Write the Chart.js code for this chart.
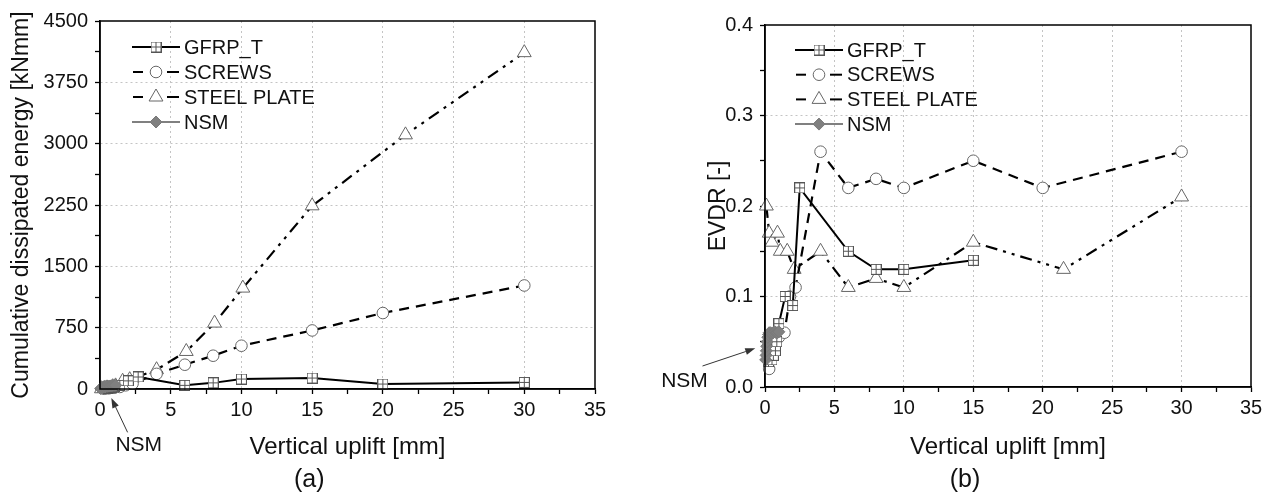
<!DOCTYPE html>
<html><head><meta charset="utf-8">
<script src="https://cdn.jsdelivr.net/npm/chart.js@4.4.0/dist/chart.umd.min.js"></script>
<style>
html,body{margin:0;padding:0;background:#fff;}
#wrap{position:relative;width:1272px;height:498px;overflow:hidden;}
#c1{position:absolute;left:0;top:0;}
#c2{position:absolute;left:640px;top:0;}
</style></head><body>
<div id="wrap"><canvas id="c1" width="640" height="498"></canvas><canvas id="c2" width="632" height="498"></canvas></div>
<script>
// ---------- data ----------
const seriesNames = ['GFRP_T', 'SCREWS', 'STEEL PLATE', 'NSM'];
const xMajorTicks = [0, 5, 10, 15, 20, 25, 30, 35];
const aYMajorTicks = [0, 750, 1500, 2250, 3000, 3750, 4500];
const bYMajorTicks = [0.0, 0.1, 0.2, 0.3, 0.4];

// Panel (a): cumulative dissipated energy [kNmm]
const aGfrpX   = [0.3, 0.5, 0.6, 0.8, 1.0, 1.4, 2.0, 2.7, 6, 8, 10, 15, 20, 30];
const aGfrpY   = [8, 12, 15, 20, 30, 45, 100, 147, 45, 75, 122, 134, 61, 81];
const aScrewsX = [0.3, 0.6, 1.0, 1.4, 1.8, 2.3, 4, 6, 8, 10, 15, 20, 30];
const aScrewsY = [3, 8, 15, 25, 45, 65, 185, 297, 407, 529, 716, 929, 1266];
const aSteelX  = [0.1, 0.3, 0.5, 0.9, 1.1, 1.6, 2.1, 4, 6.1, 8.1, 10.1, 15, 21.6, 30];
const aSteelY  = [3, 8, 14, 28, 38, 95, 114, 236, 459, 806, 1234, 2240, 3108, 4113];
const aNsmX    = [0.05, 0.1, 0.15, 0.2, 0.3, 0.4, 0.5, 0.6, 0.7, 0.8, 0.9, 1.0, 1.1];
const aNsmY    = [5, 10, 15, 20, 25, 30, 32, 35, 37, 40, 42, 44, 46];

// Panel (b): EVDR [-]
const bGfrpX   = [0.25, 0.5, 0.6, 0.75, 0.85, 1.0, 1.45, 2.0, 2.5, 6, 8, 10, 15];
const bGfrpY   = [0.028, 0.03, 0.035, 0.04, 0.05, 0.07, 0.10, 0.09, 0.22, 0.15, 0.13, 0.13, 0.14];
const bScrewsX = [0.3, 0.7, 1.0, 1.4, 1.8, 2.2, 4, 6, 8, 10, 15, 20, 30];
const bScrewsY = [0.02, 0.04, 0.055, 0.06, 0.10, 0.11, 0.26, 0.22, 0.23, 0.22, 0.25, 0.22, 0.26];
const bSteelX  = [0.1, 0.3, 0.5, 0.9, 1.1, 1.6, 2.1, 4, 6, 8, 10, 15, 21.5, 30];
const bSteelY  = [0.20, 0.17, 0.16, 0.17, 0.15, 0.15, 0.13, 0.15, 0.11, 0.12, 0.11, 0.16, 0.13, 0.21];
const bNsmX    = [0.05, 0.08, 0.1, 0.12, 0.15, 0.2, 0.25, 0.3, 0.4, 0.5, 0.6, 0.7, 0.8, 0.9, 1.0];
const bNsmY    = [0.03, 0.035, 0.04, 0.045, 0.05, 0.055, 0.058, 0.06, 0.06, 0.059, 0.06, 0.061, 0.06, 0.06, 0.061];

// ---------- helpers ----------
const FONT = '"Liberation Sans", Arial, Helvetica, sans-serif';
const pts = (xs, ys) => xs.map((x, i) => ({x: x, y: ys[i]}));
const withMinor = (m) => { const o = []; for (let i = 0; i < m.length; i++) { o.push(m[i]); if (i < m.length - 1) o.push((m[i] + m[i + 1]) / 2); } return o; };
const isIn = (v, arr) => arr.some(m => Math.abs(m - v) < 1e-9);

function makeBoxPlus(size, stroke) {
  const c = document.createElement('canvas');
  c.width = size; c.height = size;
  const g = c.getContext('2d');
  g.fillStyle = '#fff'; g.fillRect(0.5, 0.5, size - 1, size - 1);
  g.strokeStyle = stroke; g.lineWidth = 1;
  g.strokeRect(0.5, 0.5, size - 1, size - 1);
  const m = Math.floor(size / 2) + 0.5;
  g.beginPath(); g.moveTo(m, 0.5); g.lineTo(m, size - 0.5); g.moveTo(0.5, m); g.lineTo(size - 0.5, m); g.stroke();
  return c;
}
const boxPlus = makeBoxPlus(11, '#555');

function makeDatasets(g, s, st, n) {
  return [
    {label: seriesNames[0], data: g, borderColor: '#000', borderWidth: 2, borderDash: [], order: 1,
     pointStyle: boxPlus, pointRadius: 5.5, pointBackgroundColor: '#fff', pointBorderColor: '#555', pointBorderWidth: 1},
    {label: seriesNames[1], data: s, borderColor: '#000', borderWidth: 2.2, borderDash: [10, 7], order: 2,
     pointStyle: 'circle', pointRadius: 5.8, pointBackgroundColor: '#fff', pointBorderColor: '#666', pointBorderWidth: 1},
    {label: seriesNames[2], data: st, borderColor: '#000', borderWidth: 2.2, borderDash: [12, 6, 3, 6, 3, 6], order: 3,
     pointStyle: 'triangle', pointRadius: 8, pointBackgroundColor: '#fff', pointBorderColor: '#666', pointBorderWidth: 1},
    {label: seriesNames[3], data: n, borderColor: '#808080', borderWidth: 2, borderDash: [], order: 0,
     pointStyle: 'rectRot', pointRadius: 6, pointBackgroundColor: '#808080', pointBorderColor: '#7a7a7a', pointBorderWidth: 1}
  ].map(d => Object.assign(d, {fill: false, tension: 0, clip: false, borderCapStyle: 'butt', pointHoverRadius: d.pointRadius}));
}

const decorPlugin = {
  id: 'decor',
  afterDraw(chart, args, o) {
    const {ctx, chartArea: a, scales: {x, y}} = chart;
    ctx.save();
    ctx.setLineDash([]);
    ctx.strokeStyle = '#000'; ctx.lineWidth = 1.5;
    ctx.strokeRect(a.left, a.top, a.right - a.left, a.bottom - a.top);
    // legend
    chart.data.datasets.forEach((ds, i) => {
      const yy = a.top + o.legendTop + i * o.legendGap;
      const x0 = a.left + o.legendLeft;
      ctx.setLineDash([]);
      ctx.strokeStyle = ds.borderColor; ctx.lineWidth = 2;
      const seg = (p, q) => { ctx.beginPath(); ctx.moveTo(p, yy); ctx.lineTo(q, yy); ctx.stroke(); };
      if (ds.borderDash && ds.borderDash.length) { seg(x0 + 1, x0 + 11); seg(x0 + 35, x0 + 47); }
      else seg(x0, x0 + 48);
      ctx.fillStyle = ds.pointBackgroundColor; ctx.strokeStyle = ds.pointBorderColor; ctx.lineWidth = ds.pointBorderWidth;
      Chart.helpers.drawPoint(ctx, {pointStyle: ds.pointStyle, radius: ds.pointRadius, borderWidth: ds.pointBorderWidth, rotation: 0}, x0 + 24, yy);
      ctx.fillStyle = '#111'; ctx.font = '20px ' + FONT; ctx.textAlign = 'left'; ctx.textBaseline = 'middle';
      ctx.fillText(ds.label, x0 + 52, yy + 1);
    });
    // NSM annotation
    const n = o.nsm;
    const tx = x.getPixelForValue(n.tail[0]), ty = y.getPixelForValue(n.tail[1]);
    const hx = x.getPixelForValue(n.tip[0]), hy = y.getPixelForValue(n.tip[1]);
    ctx.strokeStyle = '#333'; ctx.fillStyle = '#333'; ctx.lineWidth = 1;
    const ang = Math.atan2(hy - ty, hx - tx), L = 10, W = 3.5;
    const bx = hx - L * Math.cos(ang), by = hy - L * Math.sin(ang);
    ctx.beginPath(); ctx.moveTo(tx, ty); ctx.lineTo(bx, by); ctx.stroke();
    ctx.beginPath(); ctx.moveTo(hx, hy);
    ctx.lineTo(bx + W * Math.sin(ang), by - W * Math.cos(ang));
    ctx.lineTo(bx - W * Math.sin(ang), by + W * Math.cos(ang));
    ctx.closePath(); ctx.fill();
    ctx.fillStyle = '#111'; ctx.font = '21px ' + FONT; ctx.textAlign = 'center'; ctx.textBaseline = 'middle';
    ctx.fillText('NSM', x.getPixelForValue(n.text[0]), y.getPixelForValue(n.text[1]));
    // panel letter
    ctx.font = '25px ' + FONT;
    ctx.fillText(o.panel, x.getPixelForValue(o.panelX), o.panelY);
    ctx.restore();
  }
};

function makeScales(yMajors, yMin, yMax, yFmt, yTitle, yWidth, yTitlePad, xHeight) {
  const tickFont = {family: FONT, size: 20};
  const gridColor = (majors, lo, hi) => (c) => {
    const v = c.tick ? c.tick.value : null;
    if (v === null || !isIn(v, majors) || Math.abs(v - lo) < 1e-9 || Math.abs(v - hi) < 1e-9) return 'rgba(0,0,0,0)';
    return '#c4c4c4';
  };
  return {
    x: {
      type: 'linear', min: 0, max: 35,
      afterBuildTicks: (s) => { s.ticks = withMinor(xMajorTicks).map(v => ({value: v})); },
      afterFit: (s) => { s.height = xHeight; },
      ticks: {autoSkip: false, maxRotation: 0, padding: 4, color: '#111', font: tickFont,
        callback: (v) => isIn(v, xMajorTicks) ? String(v) : ''},
      grid: {color: gridColor(xMajorTicks, 0, 35), lineWidth: 1, tickColor: '#000', tickLength: 5, tickWidth: 1.3},
      border: {display: true, color: '#000', width: 1.5, dash: [2, 3]},
      title: {display: true, text: 'Vertical uplift [mm]', color: '#111', font: {family: FONT, size: 24}, padding: {top: 0, bottom: 36}}
    },
    y: {
      type: 'linear', min: yMin, max: yMax,
      afterBuildTicks: (s) => { s.ticks = withMinor(yMajors).map(v => ({value: v})); },
      afterFit: (s) => { s.width = yWidth; },
      ticks: {autoSkip: false, padding: 7, color: '#111', font: tickFont,
        callback: (v) => isIn(v, yMajors) ? yFmt(v) : ''},
      grid: {color: gridColor(yMajors, yMin, yMax), lineWidth: 1, tickColor: '#000', tickLength: 5, tickWidth: 1.3},
      border: {display: true, color: '#000', width: 1.5, dash: [2, 3]},
      title: {display: true, text: yTitle, color: '#111', font: {family: FONT, size: 23}, padding: {top: yTitlePad, bottom: 0}}
    }
  };
}

const common = {
  responsive: false, animation: false, events: [],
  plugins: {legend: {display: false}, tooltip: {enabled: false}}
};

new Chart(document.getElementById('c1'), {
  type: 'line',
  data: {datasets: makeDatasets(pts(aGfrpX, aGfrpY), pts(aScrewsX, aScrewsY), pts(aSteelX, aSteelY), pts(aNsmX, aNsmY))},
  options: Object.assign({}, common, {
    layout: {padding: {left: 0, top: 21, right: 45, bottom: 0}},
    scales: makeScales(aYMajorTicks, 0, 4500, v => String(v), 'Cumulative dissipated energy [kNmm]', 100, 8, 109),
    plugins: Object.assign({}, common.plugins, {decor: {
      legendLeft: 32, legendTop: 26, legendGap: 25,
      nsm: {tip: [0.8, -110], tail: [1.95, -530], text: [2.74, -690]},
      panel: '(a)', panelX: 14.8, panelY: 480
    }})
  }),
  plugins: [decorPlugin]
});

new Chart(document.getElementById('c2'), {
  type: 'line',
  data: {datasets: makeDatasets(pts(bGfrpX, bGfrpY), pts(bScrewsX, bScrewsY), pts(bSteelX, bSteelY), pts(bNsmX, bNsmY))},
  options: Object.assign({}, common, {
    layout: {padding: {left: 0, top: 25, right: 21, bottom: 0}},
    scales: makeScales(bYMajorTicks, 0, 0.4, v => v.toFixed(1), 'EVDR [-]', 125, 65, 111),
    plugins: Object.assign({}, common.plugins, {decor: {
      legendLeft: 30, legendTop: 25, legendGap: 24.7,
      nsm: {tip: [-0.7, 0.0427], tail: [-4.5, 0.0232], text: [-5.8, 0.0066]},
      panel: '(b)', panelX: 14.4, panelY: 480
    }})
  }),
  plugins: [decorPlugin]
});
</script>
</body></html>
